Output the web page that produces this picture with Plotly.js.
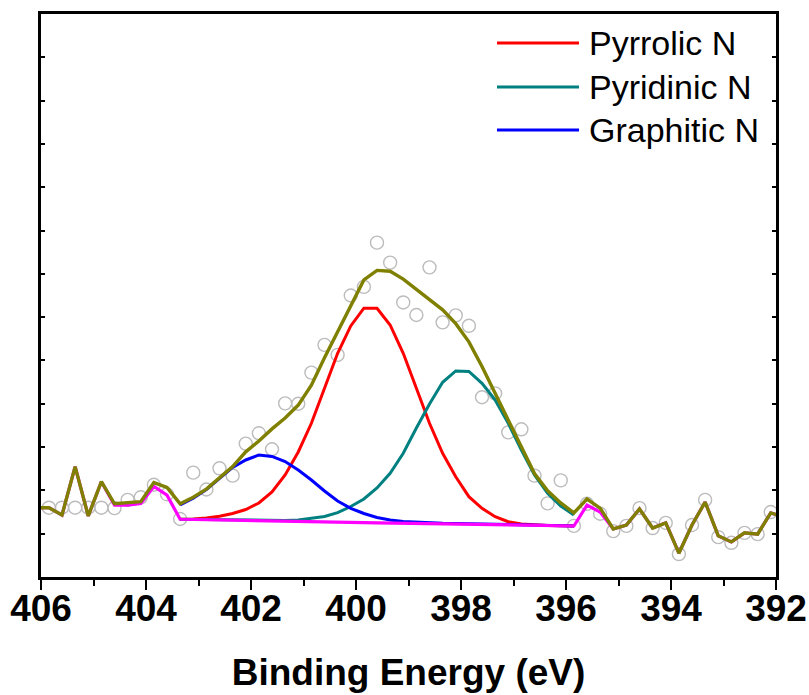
<!DOCTYPE html>
<html>
<head>
<meta charset="utf-8">
<script src="https://cdn.plot.ly/plotly-3.0.1.min.js"></script>
<style>
  html, body { margin: 0; padding: 0; background: #fff; }
  #chart { width: 809px; height: 695px; }
</style>
</head>
<body>
<div id="chart"></div>
<script>
// N 1s XPS spectrum with peak deconvolution (intensity in arbitrary units)
const energy = [406.10, 405.85, 405.60, 405.35, 405.10, 404.85, 404.60, 404.35, 404.10, 403.85,
  403.60, 403.35, 403.10, 402.85, 402.60, 402.35, 402.10, 401.85, 401.60, 401.35,
  401.10, 400.85, 400.60, 400.35, 400.10, 399.85, 399.60, 399.35, 399.10, 398.85,
  398.60, 398.35, 398.10, 397.85, 397.60, 397.35, 397.10, 396.85, 396.60, 396.35,
  396.10, 395.85, 395.60, 395.35, 395.10, 394.85, 394.60, 394.35, 394.10, 393.85,
  393.60, 393.35, 393.10, 392.85, 392.60, 392.35, 392.10, 391.85];

// measured counts
const measured = [null, 1.60, 1.60, 1.60, 1.60, 1.60, 1.59, 1.78, 1.84, 2.13,
  1.91, 1.34, 2.41, 2.02, 2.51, 2.34, 3.08, 3.32, 2.95, 4.01,
  4.00, 4.72, 5.36, 5.13, 6.50, 6.70, 7.72, 7.26, 6.34, 6.05,
  7.15, 5.88, 6.04, 5.80, 4.15, 4.24, 3.34, 3.41, 2.34, 1.70,
  2.23, 1.18, 1.69, 1.46, 1.06, 1.18, 1.59, 1.13, 1.25, 0.53,
  1.20, 1.78, 0.92, 0.79, 1.02, 0.99, 1.50, null];

// cumulative fit envelope
const envelope = [1.60, 1.60, 1.43, 2.55, 1.41, 2.20, 1.69, 1.72, 1.74, 2.18,
  2.07, 1.69, 1.84, 2.03, 2.30, 2.55, 2.89, 3.14, 3.42, 3.67,
  3.97, 4.43, 5.06, 5.66, 6.26, 6.86, 7.08, 7.06, 6.88, 6.64,
  6.41, 6.17, 5.85, 5.43, 4.86, 4.24, 3.63, 3.01, 2.39, 1.99,
  1.71, 1.48, 1.80, 1.59, 1.11, 1.20, 1.57, 1.13, 1.25, 0.55,
  1.20, 1.73, 0.95, 0.81, 1.02, 0.99, 1.48, 1.39];

// background
const background = [1.60, 1.60, 1.43, 2.55, 1.41, 2.20, 1.66, 1.66, 1.70, 2.09,
  1.89, 1.333, 1.328, 1.321, 1.316, 1.312, 1.305, 1.300, 1.293, 1.289,
  1.282, 1.277, 1.270, 1.266, 1.261, 1.256, 1.252, 1.247, 1.242, 1.238,
  1.233, 1.229, 1.224, 1.219, 1.215, 1.210, 1.206, 1.201, 1.196, 1.192,
  1.185, 1.178, 1.66, 1.50, 1.11, 1.20, 1.57, 1.13, 1.25, 0.55,
  1.20, 1.73, 0.95, 0.81, 1.02, 0.99, 1.48, 1.39];

// fitted components (background included)
const pyrrolic = [null, null, null, null, null, null, null, null, null, null,
  null, 1.333, 1.339, 1.363, 1.402, 1.467, 1.559, 1.709, 1.963, 2.356,
  2.887, 3.550, 4.358, 5.166, 5.797, 6.206, 6.206, 5.820, 5.166, 4.358,
  3.550, 2.857, 2.316, 1.855, 1.587, 1.393, 1.277, 1.224, 1.201, 1.189,
  1.182, 1.178, null, null, null, null, null, null, null, null,
  null, null, null, null, null, null, null, null];

const pyridinic = [null, null, null, null, null, null, null, null, null, null,
  null, 1.333, 1.328, 1.321, 1.316, 1.312, 1.307, 1.305, 1.303, 1.307,
  1.316, 1.351, 1.397, 1.485, 1.628, 1.801, 2.055, 2.395, 2.857, 3.441,
  3.995, 4.497, 4.758, 4.746, 4.473, 4.088, 3.550, 2.933, 2.356, 1.933,
  1.640, 1.432, null, null, null, null, null, null, null, null,
  null, null, null, null, null, null, null, null];

const graphitic = [null, null, null, null, null, null, null, null, null, null,
  null, 1.663, 1.818, 2.021, 2.279, 2.529, 2.702, 2.818, 2.783, 2.667,
  2.471, 2.240, 1.986, 1.755, 1.587, 1.467, 1.374, 1.316, 1.282, 1.263,
  1.252, 1.242, 1.236, 1.229, 1.224, 1.217, 1.212, 1.208, 1.201, 1.194,
  1.187, 1.178, null, null, null, null, null, null, null, null,
  null, null, null, null, null, null, null, null];

const componentNames = ['Pyrrolic N', 'Pyridinic N', 'Graphitic N'];
const componentColors = ['#ff0000', '#008080', '#0000ff'];
const xTicks = [406, 404, 402, 400, 398, 396, 394, 392];

function line(y, color, width, name) {
  return {
    x: energy, y: y, type: 'scatter', mode: 'lines', name: name,
    line: { color: color, width: width }, connectgaps: false,
    hoverinfo: 'x+y+name'
  };
}

const traces = [
  {
    x: energy, y: measured, type: 'scatter', mode: 'markers', name: 'Raw',
    marker: { symbol: 'circle-open', size: 13, color: '#bcbcbc', line: { width: 1.4, color: '#bcbcbc' } }
  },
  line(pyrrolic, componentColors[0], 3, componentNames[0]),
  line(pyridinic, componentColors[1], 3, componentNames[1]),
  line(graphitic, componentColors[2], 3, componentNames[2]),
  line(background, '#ff00ff', 3.2, 'Background'),
  line(envelope, '#808000', 3.4, 'Envelope')
];

// legend drawn as line samples + labels in the upper right
const legendRows = [0.9485, 0.8703, 0.7940];
const shapes = [];
const annotations = [];
componentNames.forEach((nm, i) => {
  shapes.push({
    type: 'line', xref: 'paper', yref: 'paper',
    x0: 0.6204, x1: 0.7320, y0: legendRows[i], y1: legendRows[i],
    line: { color: componentColors[i], width: 3 }
  });
  annotations.push({
    xref: 'paper', yref: 'paper', x: 0.7430, y: legendRows[i],
    xanchor: 'left', yanchor: 'middle', showarrow: false, text: nm,
    font: { family: 'Liberation Sans, Arial, sans-serif', size: 34, color: '#000' }
  });
});

const layout = {
  width: 809, height: 695,
  margin: { l: 41, r: 33, t: 14, b: 118 },
  paper_bgcolor: '#fff', plot_bgcolor: '#fff',
  showlegend: false,
  xaxis: {
    range: [406, 392], tickvals: xTicks, ticktext: xTicks.map(String),
    showgrid: false, zeroline: false,
    showline: true, linecolor: '#000', linewidth: 3, mirror: true,
    ticks: 'outside', ticklen: 10, tickwidth: 2.5, tickcolor: '#000',
    ticklabelstandoff: -13,
    minor: { dtick: 1, tick0: 392, ticks: 'outside', ticklen: 6, tickwidth: 2, tickcolor: '#000' },
    tickfont: { family: 'Liberation Sans, Arial, sans-serif', size: 37, color: '#000', weight: 'bold' },
    title: {
      text: 'Binding Energy (eV)', standoff: 31,
      font: { family: 'Liberation Sans, Arial, sans-serif', size: 37, color: '#000', weight: 'bold' }
    }
  },
  yaxis: {
    range: [0, 13], dtick: 1, showticklabels: false,
    showgrid: false, zeroline: false,
    showline: true, linecolor: '#000', linewidth: 3, mirror: 'ticks',
    ticks: 'inside', ticklen: 4, tickwidth: 2, tickcolor: '#000'
  },
  shapes: shapes,
  annotations: annotations
};

Plotly.newPlot('chart', traces, layout, { displayModeBar: false, staticPlot: true });
</script>
</body>
</html>
